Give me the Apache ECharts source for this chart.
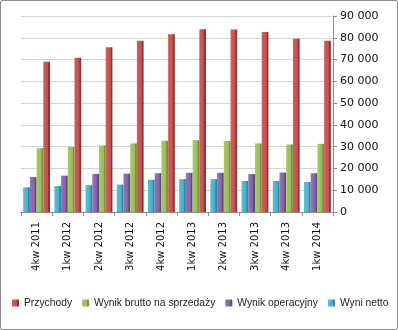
<!DOCTYPE html>
<html><head><meta charset="utf-8">
<script src="https://cdn.jsdelivr.net/npm/echarts@6/dist/echarts.min.js"></script>
<style>html,body{margin:0;padding:0;background:#fff}
#c{width:398px;height:330px;box-sizing:border-box;border:1px solid #8c8c8c;border-radius:2px}</style>
</head><body><div id="c"></div>
<script>
const categories = ['4kw 2011','1kw 2012','2kw 2012','3kw 2012','4kw 2012','1kw 2013','2kw 2013','3kw 2013','4kw 2013','1kw 2014'];
const przychody = [69000, 70800, 75700, 78600, 81600, 83900, 83800, 82700, 79600, 78600];
const brutto = [29300, 29900, 30600, 31500, 32700, 33000, 32600, 31500, 31000, 31300];
const operacyjny = [16100, 16700, 17500, 17600, 17800, 18000, 18000, 17400, 18100, 17800];
const netto = [11300, 11900, 12300, 12600, 14800, 15100, 15100, 14300, 14300, 13800];
const yTicks = [0, 10000, 20000, 30000, 40000, 50000, 60000, 70000, 80000, 90000];

function grad(c1, c2, c3){
  return {type:'linear',x:0,y:0,x2:1,y2:0,colorStops:[
    {offset:0,color:c1},{offset:0.7,color:c2},{offset:0.78,color:c3},{offset:1,color:c3}]};
}
const chart = echarts.init(document.getElementById('c'));
const font = 'DejaVu Sans';
chart.setOption({
  animation:false,
  textStyle:{fontFamily:font},
  grid:{left:20,right:64,top:15,bottom:117},
  legend:{
    data:['Przychody','Wynik brutto na sprzedaży','Wynik operacyjny','Wyni netto'],
    left:11, right:0, top:297, padding:0, icon:'rect', itemWidth:7, itemHeight:7, itemGap:10,
    textStyle:{fontFamily:'Liberation Sans',fontSize:10.3,color:'#222'}
  },
  xAxis:{
    type:'category', data:categories,
    axisLine:{lineStyle:{color:'#8c8c8c'}},
    axisTick:{show:true,length:4,lineStyle:{color:'#8c8c8c'}},
    axisLabel:{rotate:90,fontFamily:font,fontSize:10,color:'#111',margin:10}
  },
  yAxis:{
    type:'value', position:'right', min:yTicks[0], max:yTicks[yTicks.length-1], interval:10000,
    axisLine:{show:true,lineStyle:{color:'#8c8c8c'}},
    axisTick:{show:true,length:4,lineStyle:{color:'#8c8c8c'}},
    splitLine:{lineStyle:{color:'#d4d4d4'}},
    axisLabel:{fontFamily:font,fontSize:11,color:'#111',margin:7,
      formatter:v=>String(v).replace(/\B(?=(\d{3})+(?!\d))/g,' ')}
  },
  series:[
    {name:'Wyni netto',type:'bar',data:netto,barGap:'0%',barCategoryGap:'14%',
     itemStyle:{color:grad('#5bbdd6','#4aacc6','#2e8aa3')}},
    {name:'Wynik operacyjny',type:'bar',data:operacyjny,barGap:'0%',
     itemStyle:{color:grad('#9077b3','#8064a2','#5e4a7d')}},
    {name:'Wynik brutto na sprzedaży',type:'bar',data:brutto,barGap:'0%',
     itemStyle:{color:grad('#a9c96a','#9bbb59','#76923c')}},
    {name:'Przychody',type:'bar',data:przychody,barGap:'0%',
     itemStyle:{color:grad('#cf605d','#c0504d','#8f3432')}}
  ]
});
</script></body></html>
